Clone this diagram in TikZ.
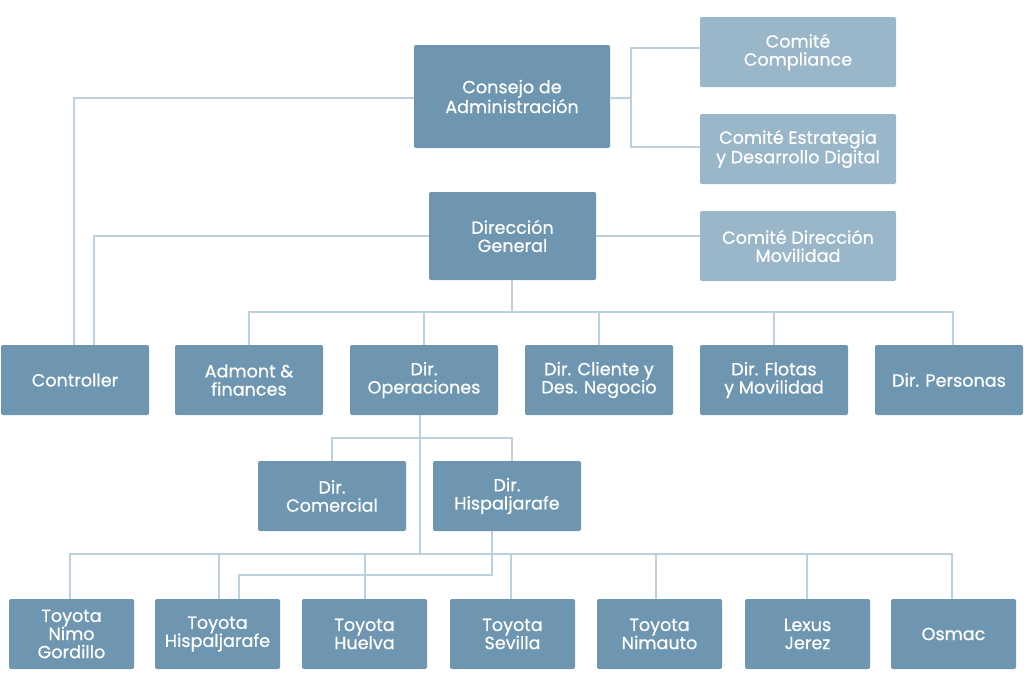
\documentclass[tikz,border=0pt]{standalone}
\usepackage{fontspec}
\setmainfont{Poppins}[FakeBold=0.6]
\usetikzlibrary{calc}
\definecolor{boxc}{HTML}{6E96B0}
\definecolor{lightc}{HTML}{9AB6C9}
\definecolor{linec}{HTML}{BCD0DE}
\tikzset{
  box/.style={fill=boxc, rounded corners=1.5pt, text=white, align=center,
    font=\fontsize{13.2}{13.6}\selectfont, inner sep=0pt,
    minimum width=111pt, minimum height=52.5pt},
  lightbox/.style={box, fill=lightc, minimum width=147pt},
  smallbox/.style={box, minimum width=93.75pt},
  conn/.style={draw=linec, line width=1.6pt}
}
\begin{document}
\begin{tikzpicture}[x=0.75pt,y=-0.75pt]
\useasboundingbox (0,0) rectangle (1024,678);
% top
\node[box, minimum width=147pt, minimum height=77.25pt] (cons) at (512,96.5) {Consejo de\\Administración};
\node[lightbox] (comp) at (798,52) {Comité\\Compliance};
\node[lightbox] (estr) at (798,149) {Comité Estrategia\\y Desarrollo Digital};
\node[box, minimum width=125.25pt, minimum height=66pt] (dg) at (512.5,236) {Dirección\\General};
\node[lightbox] (cdm) at (798,246) {Comité Dirección\\Movilidad};
% row 2
\node[box] (ctrl) at (75,380) {Controller};
\node[box] (adm) at (249,380) {Admont \&\\finances};
\node[box] (ope) at (424,380) {Dir.\\Operaciones};
\node[box] (cli) at (599,380) {Dir. Cliente y\\Des. Negocio};
\node[box] (flo) at (774,380) {Dir. Flotas\\y Movilidad};
\node[box] (per) at (949,380) {Dir. Personas};
% row 3
\node[box] (com) at (332,496) {Dir.\\Comercial};
\node[box] (his) at (507,496) {Dir.\\Hispaljarafe};
% row 4
\node[smallbox] (t1) at (71.5,634) {Toyota\\Nimo\\Gordillo};
\node[smallbox] (t2) at (217.5,634) {Toyota\\Hispaljarafe};
\node[smallbox] (t3) at (364.5,634) {Toyota\\Huelva};
\node[smallbox] (t4) at (512.5,634) {Toyota\\Sevilla};
\node[smallbox] (t5) at (659.5,634) {Toyota\\Nimauto};
\node[smallbox] (t6) at (807.5,634) {Lexus\\Jerez};
\node[smallbox] (t7) at (953.5,634) {Osmac};
% connectors: Consejo
\coordinate (cr) at ($(cons.east)+(21,1.5)$);
\draw[conn] ([yshift=-1.1pt]cons.east) -- (cr);
\draw[conn] ($(comp.west)+(0,-4)$) -| (cr) |- ($(estr.west)+(0,-2)$);
\draw[conn] ([yshift=-1.1pt]cons.west) -| ($(ctrl.north)+(-1,0)$);
% Direccion General
\draw[conn] (dg.west) -| ($(ctrl.north)+(19,0)$);
\draw[conn] (dg.east) -- (dg.east -| cdm.west);
\coordinate (b1) at ($(dg.south)+(-0.5,32)$);
\draw[conn] ($(dg.south)+(-0.5,0)$) -- (b1);
\foreach \n in {adm,ope,cli,flo} { \draw[conn] (b1) -| (\n.north); }
\draw[conn] (b1) -| ($(per.north)+(4,0)$);
% Operaciones
\coordinate (o1) at ($(ope.south)+(-4,0)$);
\coordinate (sb) at ($(o1)+(0,23)$);
\coordinate (bus) at ($(t1.north)+(-1.5,-45)$);
\draw[conn] (o1) -- (o1 |- bus);
\draw[conn] (sb) -| (com.north);
\draw[conn] (sb) -| ($(his.north)+(5,0)$);
\draw[conn] (o1 |- bus) -| ($(t1.north)+(-1.5,0)$);
\draw[conn] (o1 |- bus) -| ($(t2.north)+(1.5,0)$);
\draw[conn] (o1 |- bus) -| ($(t3.north)+(0.5,0)$);
\draw[conn] (o1 |- bus) -| ($(t4.north)+(-1.5,0)$);
\draw[conn] (o1 |- bus) -| ($(t5.north)+(-3.5,0)$);
\draw[conn] (o1 |- bus) -| ($(t6.north)+(-0.5,0)$);
\draw[conn] (o1 |- bus) -| ($(t7.north)+(-1.5,0)$);
% Hispaljarafe
\draw[conn] ($(his.south)+(-15,0)$) |- ($(t2.north)+(21.5,-24)$) -- ($(t2.north)+(21.5,0)$);
\end{tikzpicture}
\end{document}
